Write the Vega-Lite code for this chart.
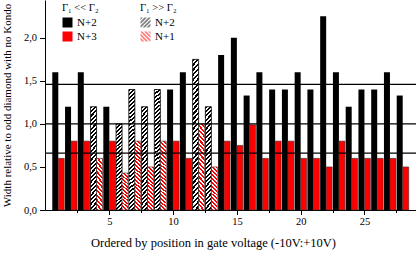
{
  "$schema": "https://vega.github.io/schema/vega-lite/v6.json",
  "width": 371,
  "height": 210,
  "autosize": {"type": "none"},
  "padding": {"left": 45, "top": 0, "right": 0, "bottom": 56},
  "background": "white",
  "config": {
    "font": "Liberation Serif",
    "view": {"stroke": null},
    "axis": {"grid": false, "domainColor": "#000", "tickColor": "#000", "labelColor": "#000", "titleColor": "#000", "labelFont": "Liberation Serif", "titleFont": "Liberation Serif", "titleFontWeight": "normal", "labelFontSize": 10.5, "titleFontSize": 12.5, "domainWidth": 1, "tickWidth": 1},
    "legend": {"titleFont": "Liberation Serif", "labelFont": "Liberation Serif", "titleFontWeight": "normal", "labelFontWeight": "normal", "titleColor": "#000", "labelColor": "#000", "titleFontSize": 10.5, "labelFontSize": 11, "symbolType": "square", "symbolSize": 100, "symbolStrokeWidth": 0, "rowPadding": 2, "titlePadding": 3.5, "labelOffset": 4, "padding": 0, "orient": "none"}
  },
  "resolve": {"scale": {"fill": "independent", "shape": "independent"}},
  "layer": [
    {
      "data": {"values": [
        {"n":1,"series":"N+2","regime":"<<","value":1.6},{"n":1,"series":"N+3","regime":"<<","value":0.6},
        {"n":2,"series":"N+2","regime":"<<","value":1.2},{"n":2,"series":"N+3","regime":"<<","value":0.8},
        {"n":3,"series":"N+2","regime":"<<","value":1.6},{"n":3,"series":"N+3","regime":"<<","value":0.8},
        {"n":4,"series":"N+2","regime":">>","value":1.2},{"n":4,"series":"N+1","regime":">>","value":0.6},
        {"n":5,"series":"N+2","regime":"<<","value":1.2},{"n":5,"series":"N+3","regime":"<<","value":0.8},
        {"n":6,"series":"N+2","regime":">>","value":1.0},{"n":6,"series":"N+1","regime":">>","value":0.43},
        {"n":7,"series":"N+2","regime":">>","value":1.4},{"n":7,"series":"N+1","regime":">>","value":0.8},
        {"n":8,"series":"N+2","regime":">>","value":1.2},{"n":8,"series":"N+1","regime":">>","value":0.5},
        {"n":9,"series":"N+2","regime":">>","value":1.4},{"n":9,"series":"N+1","regime":">>","value":0.8},
        {"n":10,"series":"N+2","regime":"<<","value":1.4},{"n":10,"series":"N+3","regime":"<<","value":0.8},
        {"n":11,"series":"N+2","regime":"<<","value":1.6},{"n":11,"series":"N+3","regime":"<<","value":0.6},
        {"n":12,"series":"N+2","regime":">>","value":1.75},{"n":12,"series":"N+1","regime":">>","value":1.0},
        {"n":13,"series":"N+2","regime":">>","value":1.2},{"n":13,"series":"N+1","regime":">>","value":0.5},
        {"n":14,"series":"N+2","regime":"<<","value":1.8},{"n":14,"series":"N+3","regime":"<<","value":0.8},
        {"n":15,"series":"N+2","regime":"<<","value":2.0},{"n":15,"series":"N+3","regime":"<<","value":0.75},
        {"n":16,"series":"N+2","regime":"<<","value":1.33},{"n":16,"series":"N+3","regime":"<<","value":0.99},
        {"n":17,"series":"N+2","regime":"<<","value":1.6},{"n":17,"series":"N+3","regime":"<<","value":0.6},
        {"n":18,"series":"N+2","regime":"<<","value":1.4},{"n":18,"series":"N+3","regime":"<<","value":0.8},
        {"n":19,"series":"N+2","regime":"<<","value":1.4},{"n":19,"series":"N+3","regime":"<<","value":0.8},
        {"n":20,"series":"N+2","regime":"<<","value":1.6},{"n":20,"series":"N+3","regime":"<<","value":0.6},
        {"n":21,"series":"N+2","regime":"<<","value":1.4},{"n":21,"series":"N+3","regime":"<<","value":0.6},
        {"n":22,"series":"N+2","regime":"<<","value":2.25},{"n":22,"series":"N+3","regime":"<<","value":0.5},
        {"n":23,"series":"N+2","regime":"<<","value":1.6},{"n":23,"series":"N+3","regime":"<<","value":0.8},
        {"n":24,"series":"N+2","regime":"<<","value":1.2},{"n":24,"series":"N+3","regime":"<<","value":0.6},
        {"n":25,"series":"N+2","regime":"<<","value":1.4},{"n":25,"series":"N+3","regime":"<<","value":0.6},
        {"n":26,"series":"N+2","regime":"<<","value":1.4},{"n":26,"series":"N+3","regime":"<<","value":0.6},
        {"n":27,"series":"N+2","regime":"<<","value":1.6},{"n":27,"series":"N+3","regime":"<<","value":0.6},
        {"n":28,"series":"N+2","regime":"<<","value":1.33},{"n":28,"series":"N+3","regime":"<<","value":0.5}
      ]},
      "encoding": {
        "x": {"field": "n", "type": "quantitative",
          "scale": {"domain": [0.35, 28.65], "nice": false, "zero": false},
          "axis": {"title": "Ordered by position in gate voltage (-10V:+10V)", "values": [2.5,5,7.5,10,12.5,15,17.5,20,22.5,25,27.5],
            "labelExpr": "datum.value % 5 === 0 ? format(datum.value, 'd') : ''",
            "tickSize": {"condition": {"test": "datum.value % 5 !== 0", "value": 2.5}, "value": 4.5},
            "labelPadding": 2, "titlePadding": 9, "titleX": 168, "labelFlush": false, "labelOverlap": false}},
        "y": {"field": "value", "type": "quantitative", "title": "Width relative to odd diamond with no Kondo",
          "scale": {"domain": [0, 2.44], "nice": false},
          "axis": {"values": [0,0.25,0.5,0.75,1,1.25,1.5,1.75,2,2.25],
            "labelExpr": "datum.value % 0.5 === 0 ? replace(format(datum.value, '.1f'), '.', ',') : ''",
            "tickSize": {"condition": {"test": "datum.value % 0.5 !== 0", "value": 3}, "value": 5.5},
            "labelPadding": 3, "titlePadding": 11, "titleFontSize": 11, "labelOverlap": false, "labelFlush": false}}
      },
      "resolve": {"scale": {"fill": "independent", "shape": "independent"}},
      "layer": [
        {
          "transform": [{"filter": "datum.series === 'N+2' && datum.regime === '<<'"}],
          "mark": {"type": "bar", "orient": "vertical", "width": 6, "xOffset": -3},
          "encoding": {"fill": {"field": "series", "type": "nominal",
            "scale": {"domain": ["N+2", "N+3"], "range": ["#000", "#f00"]},
            "legend": {"title": "Γ₁ << Γ₂", "legendX": 17, "legendY": 3}}}
        },
        {
          "transform": [{"filter": "datum.series === 'N+3'"}],
          "mark": {"type": "bar", "orient": "vertical", "width": 6, "xOffset": 3, "fill": "#f00", "stroke": "#333", "strokeWidth": 0.6}
        },
        {
          "transform": [{"filter": "datum.regime === 'legend only'"}],
          "mark": {"type": "point", "filled": true},
          "encoding": {
            "fill": {"field": "series", "type": "nominal",
              "scale": {"domain": ["N+2", "N+1"], "range": ["#000", "#f00"]},
              "legend": {"title": "Γ₁ >> Γ₂", "legendX": 95, "legendY": 3, "symbolStrokeWidth": 0, "symbolSize": 100}},
            "shape": {"field": "series", "type": "nominal",
              "scale": {"domain": ["N+2", "N+1"], "range": [
                "M-1,-1L-0.5,-1L-1,-0.5Z M-0.2,-1L0.3,-1L-1,0.3L-1,-0.2Z M0.6,-1L1,-1L1,-0.9L-0.9,1L-1,1L-1,0.6Z M1,-0.6L1,-0.1L-0.1,1L-0.6,1Z M1,0.2L1,0.7L0.7,1L0.2,1Z",
                "M1,-1L0.5,-1L1,-0.5Z M0.2,-1L-0.3,-1L1,0.3L1,-0.2Z M-0.6,-1L-1,-1L-1,-0.9L0.9,1L1,1L1,0.6Z M-1,-0.6L-1,-0.1L0.1,1L0.6,1Z M-1,0.2L-1,0.7L-0.7,1L-0.2,1Z"]},
              "legend": {"title": "Γ₁ >> Γ₂", "legendX": 95, "legendY": 3, "symbolStrokeWidth": 0, "symbolSize": 100}}
          }
        },
        {
          "transform": [{"filter": "datum.series === 'N+2' && indexof([4,6,8,13], datum.n) >= 0"}],
          "mark": {"type": "bar", "orient": "vertical", "width": 6, "xOffset": -3, "stroke": "#000", "strokeWidth": 0.8,
            "fill": {"gradient": "linear", "x1": 0, "y1": 0, "x2": 0.0669, "y2": 1.059, "stops": [
              {"offset":0,"color":"#000"},{"offset":0.02,"color":"#000"},{"offset":0.02,"color":"#fff"},{"offset":0.04,"color":"#fff"},{"offset":0.04,"color":"#000"},{"offset":0.06,"color":"#000"},{"offset":0.06,"color":"#fff"},{"offset":0.08,"color":"#fff"},{"offset":0.08,"color":"#000"},{"offset":0.1,"color":"#000"},{"offset":0.1,"color":"#fff"},{"offset":0.12,"color":"#fff"},{"offset":0.12,"color":"#000"},{"offset":0.14,"color":"#000"},{"offset":0.14,"color":"#fff"},{"offset":0.16,"color":"#fff"},{"offset":0.16,"color":"#000"},{"offset":0.18,"color":"#000"},{"offset":0.18,"color":"#fff"},{"offset":0.2,"color":"#fff"},{"offset":0.2,"color":"#000"},{"offset":0.22,"color":"#000"},{"offset":0.22,"color":"#fff"},{"offset":0.24,"color":"#fff"},{"offset":0.24,"color":"#000"},{"offset":0.26,"color":"#000"},{"offset":0.26,"color":"#fff"},{"offset":0.28,"color":"#fff"},{"offset":0.28,"color":"#000"},{"offset":0.3,"color":"#000"},{"offset":0.3,"color":"#fff"},{"offset":0.32,"color":"#fff"},{"offset":0.32,"color":"#000"},{"offset":0.34,"color":"#000"},{"offset":0.34,"color":"#fff"},{"offset":0.36,"color":"#fff"},{"offset":0.36,"color":"#000"},{"offset":0.38,"color":"#000"},{"offset":0.38,"color":"#fff"},{"offset":0.4,"color":"#fff"},{"offset":0.4,"color":"#000"},{"offset":0.42,"color":"#000"},{"offset":0.42,"color":"#fff"},{"offset":0.44,"color":"#fff"},{"offset":0.44,"color":"#000"},{"offset":0.46,"color":"#000"},{"offset":0.46,"color":"#fff"},{"offset":0.48,"color":"#fff"},{"offset":0.48,"color":"#000"},{"offset":0.5,"color":"#000"},{"offset":0.5,"color":"#fff"},{"offset":0.52,"color":"#fff"},{"offset":0.52,"color":"#000"},{"offset":0.54,"color":"#000"},{"offset":0.54,"color":"#fff"},{"offset":0.56,"color":"#fff"},{"offset":0.56,"color":"#000"},{"offset":0.58,"color":"#000"},{"offset":0.58,"color":"#fff"},{"offset":0.6,"color":"#fff"},{"offset":0.6,"color":"#000"},{"offset":0.62,"color":"#000"},{"offset":0.62,"color":"#fff"},{"offset":0.64,"color":"#fff"},{"offset":0.64,"color":"#000"},{"offset":0.66,"color":"#000"},{"offset":0.66,"color":"#fff"},{"offset":0.68,"color":"#fff"},{"offset":0.68,"color":"#000"},{"offset":0.7,"color":"#000"},{"offset":0.7,"color":"#fff"},{"offset":0.72,"color":"#fff"},{"offset":0.72,"color":"#000"},{"offset":0.74,"color":"#000"},{"offset":0.74,"color":"#fff"},{"offset":0.76,"color":"#fff"},{"offset":0.76,"color":"#000"},{"offset":0.78,"color":"#000"},{"offset":0.78,"color":"#fff"},{"offset":0.8,"color":"#fff"},{"offset":0.8,"color":"#000"},{"offset":0.82,"color":"#000"},{"offset":0.82,"color":"#fff"},{"offset":0.84,"color":"#fff"},{"offset":0.84,"color":"#000"},{"offset":0.86,"color":"#000"},{"offset":0.86,"color":"#fff"},{"offset":0.88,"color":"#fff"},{"offset":0.88,"color":"#000"},{"offset":0.9,"color":"#000"},{"offset":0.9,"color":"#fff"},{"offset":0.92,"color":"#fff"},{"offset":0.92,"color":"#000"},{"offset":0.94,"color":"#000"},{"offset":0.94,"color":"#fff"},{"offset":0.96,"color":"#fff"},{"offset":0.96,"color":"#000"},{"offset":0.98,"color":"#000"},{"offset":0.98,"color":"#fff"},{"offset":1,"color":"#fff"}]}}
        },
        {
          "transform": [{"filter": "datum.series === 'N+2' && indexof([7,9,12], datum.n) >= 0"}],
          "mark": {"type": "bar", "orient": "vertical", "width": 6, "xOffset": -3, "stroke": "#000", "strokeWidth": 0.8,
            "fill": {"gradient": "linear", "x1": 0, "y1": 0, "x2": 0.04705, "y2": 1.043, "stops": [
              {"offset":0,"color":"#000"},{"offset":0.0156,"color":"#000"},{"offset":0.0156,"color":"#fff"},{"offset":0.0313,"color":"#fff"},{"offset":0.0313,"color":"#000"},{"offset":0.0469,"color":"#000"},{"offset":0.0469,"color":"#fff"},{"offset":0.0625,"color":"#fff"},{"offset":0.0625,"color":"#000"},{"offset":0.0781,"color":"#000"},{"offset":0.0781,"color":"#fff"},{"offset":0.0938,"color":"#fff"},{"offset":0.0938,"color":"#000"},{"offset":0.1094,"color":"#000"},{"offset":0.1094,"color":"#fff"},{"offset":0.125,"color":"#fff"},{"offset":0.125,"color":"#000"},{"offset":0.1406,"color":"#000"},{"offset":0.1406,"color":"#fff"},{"offset":0.1563,"color":"#fff"},{"offset":0.1563,"color":"#000"},{"offset":0.1719,"color":"#000"},{"offset":0.1719,"color":"#fff"},{"offset":0.1875,"color":"#fff"},{"offset":0.1875,"color":"#000"},{"offset":0.2031,"color":"#000"},{"offset":0.2031,"color":"#fff"},{"offset":0.2188,"color":"#fff"},{"offset":0.2188,"color":"#000"},{"offset":0.2344,"color":"#000"},{"offset":0.2344,"color":"#fff"},{"offset":0.25,"color":"#fff"},{"offset":0.25,"color":"#000"},{"offset":0.2656,"color":"#000"},{"offset":0.2656,"color":"#fff"},{"offset":0.2813,"color":"#fff"},{"offset":0.2813,"color":"#000"},{"offset":0.2969,"color":"#000"},{"offset":0.2969,"color":"#fff"},{"offset":0.3125,"color":"#fff"},{"offset":0.3125,"color":"#000"},{"offset":0.3281,"color":"#000"},{"offset":0.3281,"color":"#fff"},{"offset":0.3438,"color":"#fff"},{"offset":0.3438,"color":"#000"},{"offset":0.3594,"color":"#000"},{"offset":0.3594,"color":"#fff"},{"offset":0.375,"color":"#fff"},{"offset":0.375,"color":"#000"},{"offset":0.3906,"color":"#000"},{"offset":0.3906,"color":"#fff"},{"offset":0.4063,"color":"#fff"},{"offset":0.4063,"color":"#000"},{"offset":0.4219,"color":"#000"},{"offset":0.4219,"color":"#fff"},{"offset":0.4375,"color":"#fff"},{"offset":0.4375,"color":"#000"},{"offset":0.4531,"color":"#000"},{"offset":0.4531,"color":"#fff"},{"offset":0.4688,"color":"#fff"},{"offset":0.4688,"color":"#000"},{"offset":0.4844,"color":"#000"},{"offset":0.4844,"color":"#fff"},{"offset":0.5,"color":"#fff"},{"offset":0.5,"color":"#000"},{"offset":0.5156,"color":"#000"},{"offset":0.5156,"color":"#fff"},{"offset":0.5313,"color":"#fff"},{"offset":0.5313,"color":"#000"},{"offset":0.5469,"color":"#000"},{"offset":0.5469,"color":"#fff"},{"offset":0.5625,"color":"#fff"},{"offset":0.5625,"color":"#000"},{"offset":0.5781,"color":"#000"},{"offset":0.5781,"color":"#fff"},{"offset":0.5938,"color":"#fff"},{"offset":0.5938,"color":"#000"},{"offset":0.6094,"color":"#000"},{"offset":0.6094,"color":"#fff"},{"offset":0.625,"color":"#fff"},{"offset":0.625,"color":"#000"},{"offset":0.6406,"color":"#000"},{"offset":0.6406,"color":"#fff"},{"offset":0.6563,"color":"#fff"},{"offset":0.6563,"color":"#000"},{"offset":0.6719,"color":"#000"},{"offset":0.6719,"color":"#fff"},{"offset":0.6875,"color":"#fff"},{"offset":0.6875,"color":"#000"},{"offset":0.7031,"color":"#000"},{"offset":0.7031,"color":"#fff"},{"offset":0.7188,"color":"#fff"},{"offset":0.7188,"color":"#000"},{"offset":0.7344,"color":"#000"},{"offset":0.7344,"color":"#fff"},{"offset":0.75,"color":"#fff"},{"offset":0.75,"color":"#000"},{"offset":0.7656,"color":"#000"},{"offset":0.7656,"color":"#fff"},{"offset":0.7813,"color":"#fff"},{"offset":0.7813,"color":"#000"},{"offset":0.7969,"color":"#000"},{"offset":0.7969,"color":"#fff"},{"offset":0.8125,"color":"#fff"},{"offset":0.8125,"color":"#000"},{"offset":0.8281,"color":"#000"},{"offset":0.8281,"color":"#fff"},{"offset":0.8438,"color":"#fff"},{"offset":0.8438,"color":"#000"},{"offset":0.8594,"color":"#000"},{"offset":0.8594,"color":"#fff"},{"offset":0.875,"color":"#fff"},{"offset":0.875,"color":"#000"},{"offset":0.8906,"color":"#000"},{"offset":0.8906,"color":"#fff"},{"offset":0.9063,"color":"#fff"},{"offset":0.9063,"color":"#000"},{"offset":0.9219,"color":"#000"},{"offset":0.9219,"color":"#fff"},{"offset":0.9375,"color":"#fff"},{"offset":0.9375,"color":"#000"},{"offset":0.9531,"color":"#000"},{"offset":0.9531,"color":"#fff"},{"offset":0.9688,"color":"#fff"},{"offset":0.9688,"color":"#000"},{"offset":0.9844,"color":"#000"},{"offset":0.9844,"color":"#fff"},{"offset":1,"color":"#fff"}]}}
        },
        {
          "transform": [{"filter": "datum.series === 'N+1' && indexof([4,6,8,13], datum.n) >= 0"}],
          "mark": {"type": "bar", "orient": "vertical", "width": 6, "xOffset": 3, "stroke": "#333", "strokeWidth": 0.6,
            "fill": {"gradient": "linear", "x1": 0, "y1": 1, "x2": 0.1521, "y2": -0.1156, "stops": [
              {"offset":0,"color":"#f00"},{"offset":0.04,"color":"#f00"},{"offset":0.04,"color":"#fff"},{"offset":0.08,"color":"#fff"},{"offset":0.08,"color":"#f00"},{"offset":0.12,"color":"#f00"},{"offset":0.12,"color":"#fff"},{"offset":0.16,"color":"#fff"},{"offset":0.16,"color":"#f00"},{"offset":0.2,"color":"#f00"},{"offset":0.2,"color":"#fff"},{"offset":0.24,"color":"#fff"},{"offset":0.24,"color":"#f00"},{"offset":0.28,"color":"#f00"},{"offset":0.28,"color":"#fff"},{"offset":0.32,"color":"#fff"},{"offset":0.32,"color":"#f00"},{"offset":0.36,"color":"#f00"},{"offset":0.36,"color":"#fff"},{"offset":0.4,"color":"#fff"},{"offset":0.4,"color":"#f00"},{"offset":0.44,"color":"#f00"},{"offset":0.44,"color":"#fff"},{"offset":0.48,"color":"#fff"},{"offset":0.48,"color":"#f00"},{"offset":0.52,"color":"#f00"},{"offset":0.52,"color":"#fff"},{"offset":0.56,"color":"#fff"},{"offset":0.56,"color":"#f00"},{"offset":0.6,"color":"#f00"},{"offset":0.6,"color":"#fff"},{"offset":0.64,"color":"#fff"},{"offset":0.64,"color":"#f00"},{"offset":0.68,"color":"#f00"},{"offset":0.68,"color":"#fff"},{"offset":0.72,"color":"#fff"},{"offset":0.72,"color":"#f00"},{"offset":0.76,"color":"#f00"},{"offset":0.76,"color":"#fff"},{"offset":0.8,"color":"#fff"},{"offset":0.8,"color":"#f00"},{"offset":0.84,"color":"#f00"},{"offset":0.84,"color":"#fff"},{"offset":0.88,"color":"#fff"},{"offset":0.88,"color":"#f00"},{"offset":0.92,"color":"#f00"},{"offset":0.92,"color":"#fff"},{"offset":0.96,"color":"#fff"},{"offset":0.96,"color":"#f00"},{"offset":1,"color":"#f00"}]}}
        },
        {
          "transform": [{"filter": "datum.series === 'N+1' && indexof([7,9,12], datum.n) >= 0"}],
          "mark": {"type": "bar", "orient": "vertical", "width": 6, "xOffset": 3, "stroke": "#333", "strokeWidth": 0.6,
            "fill": {"gradient": "linear", "x1": 0, "y1": 1, "x2": 0.0835, "y2": -0.0715, "stops": [
              {"offset":0,"color":"#f00"},{"offset":0.025,"color":"#f00"},{"offset":0.025,"color":"#fff"},{"offset":0.05,"color":"#fff"},{"offset":0.05,"color":"#f00"},{"offset":0.075,"color":"#f00"},{"offset":0.075,"color":"#fff"},{"offset":0.1,"color":"#fff"},{"offset":0.1,"color":"#f00"},{"offset":0.125,"color":"#f00"},{"offset":0.125,"color":"#fff"},{"offset":0.15,"color":"#fff"},{"offset":0.15,"color":"#f00"},{"offset":0.175,"color":"#f00"},{"offset":0.175,"color":"#fff"},{"offset":0.2,"color":"#fff"},{"offset":0.2,"color":"#f00"},{"offset":0.225,"color":"#f00"},{"offset":0.225,"color":"#fff"},{"offset":0.25,"color":"#fff"},{"offset":0.25,"color":"#f00"},{"offset":0.275,"color":"#f00"},{"offset":0.275,"color":"#fff"},{"offset":0.3,"color":"#fff"},{"offset":0.3,"color":"#f00"},{"offset":0.325,"color":"#f00"},{"offset":0.325,"color":"#fff"},{"offset":0.35,"color":"#fff"},{"offset":0.35,"color":"#f00"},{"offset":0.375,"color":"#f00"},{"offset":0.375,"color":"#fff"},{"offset":0.4,"color":"#fff"},{"offset":0.4,"color":"#f00"},{"offset":0.425,"color":"#f00"},{"offset":0.425,"color":"#fff"},{"offset":0.45,"color":"#fff"},{"offset":0.45,"color":"#f00"},{"offset":0.475,"color":"#f00"},{"offset":0.475,"color":"#fff"},{"offset":0.5,"color":"#fff"},{"offset":0.5,"color":"#f00"},{"offset":0.525,"color":"#f00"},{"offset":0.525,"color":"#fff"},{"offset":0.55,"color":"#fff"},{"offset":0.55,"color":"#f00"},{"offset":0.575,"color":"#f00"},{"offset":0.575,"color":"#fff"},{"offset":0.6,"color":"#fff"},{"offset":0.6,"color":"#f00"},{"offset":0.625,"color":"#f00"},{"offset":0.625,"color":"#fff"},{"offset":0.65,"color":"#fff"},{"offset":0.65,"color":"#f00"},{"offset":0.675,"color":"#f00"},{"offset":0.675,"color":"#fff"},{"offset":0.7,"color":"#fff"},{"offset":0.7,"color":"#f00"},{"offset":0.725,"color":"#f00"},{"offset":0.725,"color":"#fff"},{"offset":0.75,"color":"#fff"},{"offset":0.75,"color":"#f00"},{"offset":0.775,"color":"#f00"},{"offset":0.775,"color":"#fff"},{"offset":0.8,"color":"#fff"},{"offset":0.8,"color":"#f00"},{"offset":0.825,"color":"#f00"},{"offset":0.825,"color":"#fff"},{"offset":0.85,"color":"#fff"},{"offset":0.85,"color":"#f00"},{"offset":0.875,"color":"#f00"},{"offset":0.875,"color":"#fff"},{"offset":0.9,"color":"#fff"},{"offset":0.9,"color":"#f00"},{"offset":0.925,"color":"#f00"},{"offset":0.925,"color":"#fff"},{"offset":0.95,"color":"#fff"},{"offset":0.95,"color":"#f00"},{"offset":0.975,"color":"#f00"},{"offset":0.975,"color":"#fff"},{"offset":1,"color":"#fff"}]}}
        }
      ]
    },
    {
      "data": {"values": [{"level": 1.46}, {"level": 1.0}, {"level": 0.66}]},
      "mark": {"type": "rule", "color": "#000", "strokeWidth": 1.2},
      "encoding": {"y": {"field": "level", "type": "quantitative", "title": "Width relative to odd diamond with no Kondo", "scale": {"domain": [0, 2.44], "nice": false}}}
    }
  ]
}
